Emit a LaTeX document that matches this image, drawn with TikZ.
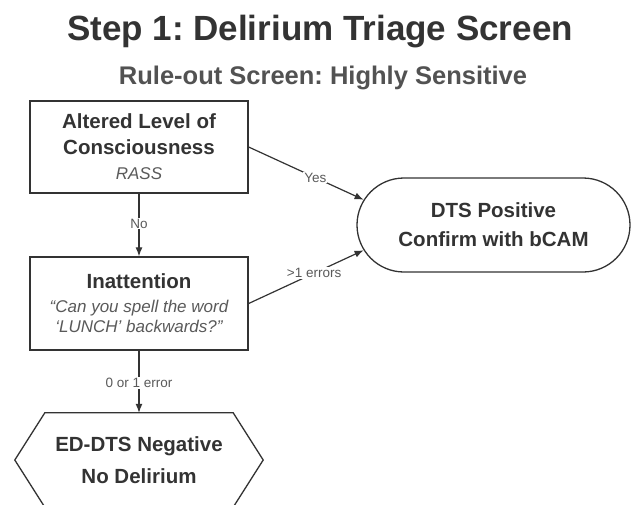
\documentclass[tikz,border=0pt]{standalone}
\usepackage{fontspec}
\setmainfont{Liberation Sans}
\usetikzlibrary{arrows.meta,shapes.misc}
\frenchspacing
\definecolor{ink}{HTML}{333333}
\definecolor{soft}{HTML}{5A5A5A}
\tikzset{
  stepbox/.style={draw=ink, line width=1.3pt, rectangle, minimum width=218pt, align=center, inner sep=0pt, text=ink},
  endcap/.style={draw=ink, line width=1.3pt, rounded rectangle, minimum width=273pt, minimum height=94pt, align=center, inner sep=0pt, text=ink},
  hexbody/.style={minimum width=188pt, minimum height=94pt, align=center, inner sep=0pt, text=ink},
  flow/.style={draw=ink, line width=1.2pt, -{Latex[length=9pt,width=7pt]}},
  tag/.style={fill=white, inner sep=1pt, text=soft, font=\fontsize{13.5}{15}\selectfont},
}
\newcommand{\hint}[1]{{\fontsize{17}{20}\selectfont\mdseries\itshape\color{soft}#1}}
\begin{document}
\begin{tikzpicture}[x=1pt, y=-1pt]
\useasboundingbox[fill=white] (0,0) rectangle (631,504);

% titles
\node[font=\fontsize{35}{40}\selectfont\bfseries, text=ink] (title) at (320,32) {Step 1: Delirium Triage Screen};
\node[font=\fontsize{25.5}{30}\selectfont\bfseries, text=ink!85] (subtitle) at (323,78) {Rule-out Screen: Highly Sensitive};

% screening steps
\node[stepbox, minimum height=92pt, font=\fontsize{20.5}{25.5}\selectfont\bfseries] (loc) at (139,147)
  {Altered Level of\\Consciousness\\\hint{RASS}};
\node[stepbox, minimum height=93pt, font=\fontsize{20.5}{22}\selectfont\bfseries] (inatt) at (139,303.5)
  {Inattention\\[2pt]\hint{``Can you spell the word}\\[-2pt]\hint{`LUNCH' backwards?''}};

% outcomes
\node[endcap, font=\fontsize{20.5}{29}\selectfont\bfseries] (pos) at (493.5,225)
  {DTS Positive\\Confirm with bCAM};
\node[hexbody, font=\fontsize{20.5}{32}\selectfont\bfseries] (neg) at (139,460)
  {ED-DTS Negative\\No Delirium};
\draw[draw=ink, line width=1.3pt] (neg.north west) -- (neg.north east) -- ([xshift=30pt]neg.east)
  -- (neg.south east) -- (neg.south west) -- ([xshift=-30pt]neg.west) -- cycle;

% connectors
\draw[flow] (loc.east) -- (pos.169) node[tag, pos=0.58] {Yes};
\draw[flow] (inatt.east) -- (pos.191) node[tag, pos=0.57] {>1 errors};
\draw[flow] (loc.south) -- (inatt.north) node[tag, pos=0.48] {No};
\draw[flow] (inatt.south) -- (neg.north) node[tag, pos=0.52] {0 or 1 error};
\end{tikzpicture}
\end{document}
